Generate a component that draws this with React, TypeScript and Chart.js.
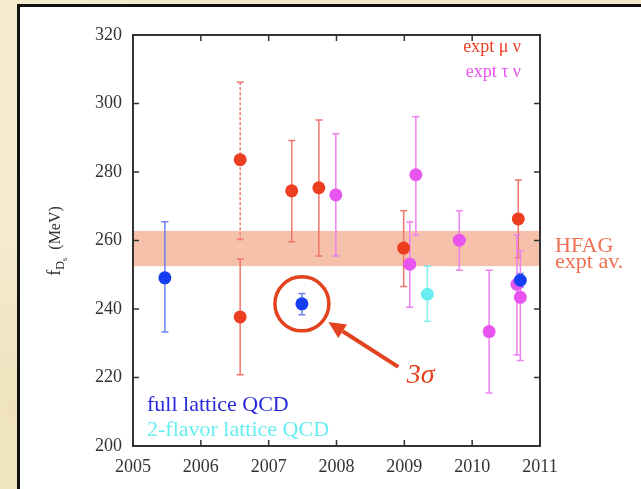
import React, { useEffect, useRef } from "react";
import { Chart, registerables } from "chart.js";

Chart.register(...registerables);

// Axis ticks
const YEAR_TICKS = [2005, 2006, 2007, 2008, 2009, 2010, 2011];
const FDS_TICKS = [200, 220, 240, 260, 280, 300, 320];

// HFAG experimental average band (MeV)
const HFAG_LOW = 252.5;
const HFAG_HIGH = 262.8;

// Full (2+1 flavor) lattice QCD results
const fullYear = [2005.47, 2007.49, 2010.71];
const fullFds = [249.1, 241.5, 248.4];
const fullLow = [233.3, 238.3, 246.4];
const fullHigh = [265.5, 244.5, 250.4];

// 2-flavor lattice QCD
const twoFlavorYear = [2009.34];
const twoFlavorFds = [244.3];
const twoFlavorLow = [236.4];
const twoFlavorHigh = [252.5];

// Experiment, Ds -> mu nu
const muNuYear = [2006.58, 2006.58, 2007.34, 2007.74, 2008.99, 2010.68];
const muNuFds = [283.6, 237.7, 274.5, 275.4, 257.8, 266.3];
const muNuLow = [260.3, 220.8, 259.6, 255.5, 246.6, 254.9];
const muNuHigh = [306.2, 254.6, 289.2, 295.2, 268.7, 277.7];
const muNuDashed = [true, false, false, false, false, false];

// Experiment, Ds -> tau nu
const tauNuYear = [2007.99, 2009.08, 2009.17, 2009.81, 2010.25, 2010.66, 2010.71];
const tauNuFds = [273.3, 253.1, 279.2, 260.1, 233.4, 247.2, 243.4];
const tauNuLow = [255.5, 240.5, 261.6, 251.3, 215.5, 226.6, 225.0];
const tauNuHigh = [291.2, 265.4, 296.1, 268.7, 251.3, 261.6, 257.0];

const SERIF = '"Liberation Serif", "Times New Roman", serif';

const C = {
  axis: "#333333",
  band: "rgb(245,193,170)",
  hfag: "rgb(240,112,82)",
  mu: "rgb(238,62,34)",
  muBar: "rgb(240,118,106)",
  tau: "rgb(232,84,240)",
  tauBar: "rgb(238,128,240)",
  full: "rgb(22,62,240)",
  fullBar: "rgb(108,128,240)",
  fullText: "rgb(42,42,218)",
  two: "rgb(104,238,240)",
  twoBar: "rgb(128,240,240)",
  mark: "rgb(226,66,30)",
};

const points = (xs: number[], ys: number[]) => xs.map((x, i) => ({ x, y: ys[i] }));

// Shaded HFAG band behind everything
const bandPlugin = {
  id: "hfagBand",
  beforeDatasetsDraw(chart: any) {
    const { ctx, chartArea, scales } = chart;
    const top = scales.y.getPixelForValue(HFAG_HIGH);
    const bottom = scales.y.getPixelForValue(HFAG_LOW);
    ctx.save();
    ctx.fillStyle = C.band;
    ctx.fillRect(chartArea.left, top, chartArea.right - chartArea.left, bottom - top);
    ctx.restore();
  },
};

// Vertical error bars with small caps
const errorBarPlugin = {
  id: "errorBars",
  beforeDatasetsDraw(chart: any) {
    const { ctx, scales } = chart;
    chart.data.datasets.forEach((ds: any) => {
      ds.data.forEach((p: any, i: number) => {
        const px = scales.x.getPixelForValue(p.x);
        const top = scales.y.getPixelForValue(ds.high[i]);
        const bottom = scales.y.getPixelForValue(ds.low[i]);
        ctx.save();
        ctx.strokeStyle = ds.barColor;
        ctx.lineWidth = 1.5;
        ctx.setLineDash(ds.dashed && ds.dashed[i] ? [3, 2] : []);
        ctx.beginPath();
        ctx.moveTo(px, top);
        ctx.lineTo(px, bottom);
        ctx.stroke();
        ctx.setLineDash([]);
        ctx.beginPath();
        ctx.moveTo(px - 3.5, top);
        ctx.lineTo(px + 3.5, top);
        ctx.moveTo(px - 3.5, bottom);
        ctx.lineTo(px + 3.5, bottom);
        ctx.stroke();
        ctx.restore();
      });
    });
  },
};

// Frame, inward ticks, labels and the 3-sigma annotation
const decorPlugin = {
  id: "decor",
  afterDatasetsDraw(chart: any) {
    const { ctx, chartArea: a, scales } = chart;
    const xs = scales.x;
    const ys = scales.y;
    ctx.save();

    // annotation: circle around the outlying lattice point, arrow and label
    const cx = xs.getPixelForValue(fullYear[1]);
    const cy = ys.getPixelForValue(fullFds[1]);
    ctx.strokeStyle = C.mark;
    ctx.fillStyle = C.mark;
    ctx.lineWidth = 3.5;
    ctx.beginPath();
    ctx.arc(cx, cy, 27, 0, Math.PI * 2);
    ctx.stroke();

    const tx = xs.getPixelForValue(2008.91);
    const ty = ys.getPixelForValue(223.1);
    const hx = xs.getPixelForValue(2007.88);
    const hy = ys.getPixelForValue(236.2);
    const ang = Math.atan2(hy - ty, hx - tx);
    const headLen = 17;
    const headHalf = 8;
    const bx = hx - headLen * Math.cos(ang);
    const by = hy - headLen * Math.sin(ang);
    ctx.lineWidth = 4;
    ctx.beginPath();
    ctx.moveTo(tx, ty);
    ctx.lineTo(bx, by);
    ctx.stroke();
    ctx.beginPath();
    ctx.moveTo(hx, hy);
    ctx.lineTo(bx + headHalf * Math.sin(ang), by - headHalf * Math.cos(ang));
    ctx.lineTo(bx - headHalf * Math.sin(ang), by + headHalf * Math.cos(ang));
    ctx.closePath();
    ctx.fill();

    ctx.font = `italic 28px ${SERIF}`;
    ctx.textAlign = "center";
    ctx.textBaseline = "middle";
    ctx.fillText("3σ", xs.getPixelForValue(2009.24), ys.getPixelForValue(220.4));

    // frame
    ctx.strokeStyle = C.axis;
    ctx.lineWidth = 2;
    ctx.strokeRect(a.left, a.top, a.right - a.left, a.bottom - a.top);
    ctx.lineWidth = 1.5;
    ctx.beginPath();
    YEAR_TICKS.forEach((t) => {
      const p = xs.getPixelForValue(t);
      ctx.moveTo(p, a.bottom);
      ctx.lineTo(p, a.bottom - 6);
      ctx.moveTo(p, a.top);
      ctx.lineTo(p, a.top + 6);
    });
    FDS_TICKS.forEach((t) => {
      const p = ys.getPixelForValue(t);
      ctx.moveTo(a.left, p);
      ctx.lineTo(a.left + 6, p);
      ctx.moveTo(a.right, p);
      ctx.lineTo(a.right - 6, p);
    });
    ctx.stroke();

    // series labels
    ctx.textBaseline = "alphabetic";
    ctx.textAlign = "right";
    ctx.font = `18px ${SERIF}`;
    ctx.fillStyle = C.mu;
    ctx.fillText("expt μ ν", a.right - 19, a.top + 17);
    ctx.fillStyle = C.tau;
    ctx.fillText("expt τ ν", a.right - 19, a.top + 42);

    ctx.font = `22px ${SERIF}`;
    ctx.textAlign = "left";
    ctx.fillStyle = C.fullText;
    ctx.fillText("full lattice QCD", a.left + 14, a.bottom - 35);
    ctx.fillStyle = C.two;
    ctx.fillText("2-flavor lattice QCD", a.left + 14, a.bottom - 10);

    ctx.fillStyle = C.hfag;
    ctx.fillText("HFAG", a.right + 15, ys.getPixelForValue(HFAG_LOW) - 14);
    ctx.fillText("expt av.", a.right + 15, ys.getPixelForValue(HFAG_LOW) + 2);

    // y-axis title: f_{D_s} (MeV)
    ctx.fillStyle = "#333333";
    ctx.translate(60, 241);
    ctx.rotate(-Math.PI / 2);
    const parts = [
      { t: "f", f: `18px ${SERIF}`, dy: 0 },
      { t: "D", f: `12px ${SERIF}`, dy: 4 },
      { t: "s", f: `9px ${SERIF}`, dy: 7 },
      { t: "  (MeV)", f: `16px ${SERIF}`, dy: 0 },
    ];
    let total = 0;
    parts.forEach((p) => {
      ctx.font = p.f;
      total += ctx.measureText(p.t).width;
    });
    let x = -total / 2;
    parts.forEach((p) => {
      ctx.font = p.f;
      ctx.fillText(p.t, x, p.dy);
      x += ctx.measureText(p.t).width;
    });

    ctx.restore();
  },
};

export default function App() {
  const canvasRef = useRef<HTMLCanvasElement | null>(null);

  useEffect(() => {
    if (!canvasRef.current) return;
    const tickFont = { family: SERIF, size: 18 };
    const chart = new Chart(canvasRef.current, {
      type: "scatter",
      data: {
        datasets: [
          {
            label: "full lattice QCD",
            data: points(fullYear, fullFds),
            low: fullLow,
            high: fullHigh,
            barColor: C.fullBar,
            backgroundColor: C.full,
            pointRadius: 6.5,
            pointBorderWidth: 0,
          },
          {
            label: "expt μ ν",
            data: points(muNuYear, muNuFds),
            low: muNuLow,
            high: muNuHigh,
            dashed: muNuDashed,
            barColor: C.muBar,
            backgroundColor: C.mu,
            pointRadius: 6.5,
            pointBorderWidth: 0,
          },
          {
            label: "2-flavor lattice QCD",
            data: points(twoFlavorYear, twoFlavorFds),
            low: twoFlavorLow,
            high: twoFlavorHigh,
            barColor: C.twoBar,
            backgroundColor: C.two,
            pointRadius: 6.5,
            pointBorderWidth: 0,
          },
          {
            label: "expt τ ν",
            data: points(tauNuYear, tauNuFds),
            low: tauNuLow,
            high: tauNuHigh,
            barColor: C.tauBar,
            backgroundColor: C.tau,
            pointRadius: 6.5,
            pointBorderWidth: 0,
          },
        ] as any,
      },
      options: {
        animation: false,
        responsive: false,
        devicePixelRatio: 1,
        events: [],
        layout: { padding: { top: 35, right: 101, left: 0, bottom: 0 } },
        plugins: {
          legend: { display: false },
          tooltip: { enabled: false },
          title: { display: false },
        },
        scales: {
          x: {
            type: "linear",
            min: 2005,
            max: 2011,
            afterBuildTicks: (s: any) => {
              s.ticks = YEAR_TICKS.map((v) => ({ value: v }));
            },
            afterFit: (s: any) => {
              s.height = 43;
            },
            ticks: { font: tickFont, color: "#333333", padding: 2, callback: (v: any) => String(v) },
            grid: { display: false },
            border: { display: false },
          },
          y: {
            type: "linear",
            min: 200,
            max: 320,
            afterBuildTicks: (s: any) => {
              s.ticks = FDS_TICKS.map((v) => ({ value: v }));
            },
            afterFit: (s: any) => {
              s.width = 133;
            },
            ticks: { font: tickFont, color: "#333333", padding: 3, callback: (v: any) => String(v) },
            grid: { display: false },
            border: { display: false },
          },
        },
      } as any,
      plugins: [bandPlugin, errorBarPlugin, decorPlugin],
    });
    return () => chart.destroy();
  }, []);

  return (
    <div
      style={{
        position: "fixed",
        left: 0,
        top: 0,
        width: 641,
        height: 489,
        overflow: "hidden",
        background:
          "radial-gradient(circle at 10% 30%, #f6edd3 0%, rgba(246,237,211,0) 40%), radial-gradient(circle at 5% 80%, #efe2bd 0%, rgba(239,226,189,0) 45%), #f3e8c8",
      }}
    >
      <div
        style={{
          position: "absolute",
          left: 17,
          top: 4,
          width: 624,
          height: 485,
          boxSizing: "border-box",
          background: "#ffffff",
          borderLeft: "3px solid #111111",
          borderTop: "3px solid #111111",
        }}
      />
      <canvas
        ref={canvasRef}
        width={641}
        height={489}
        style={{ position: "absolute", left: 0, top: 0, width: 641, height: 489 }}
      />
    </div>
  );
}
